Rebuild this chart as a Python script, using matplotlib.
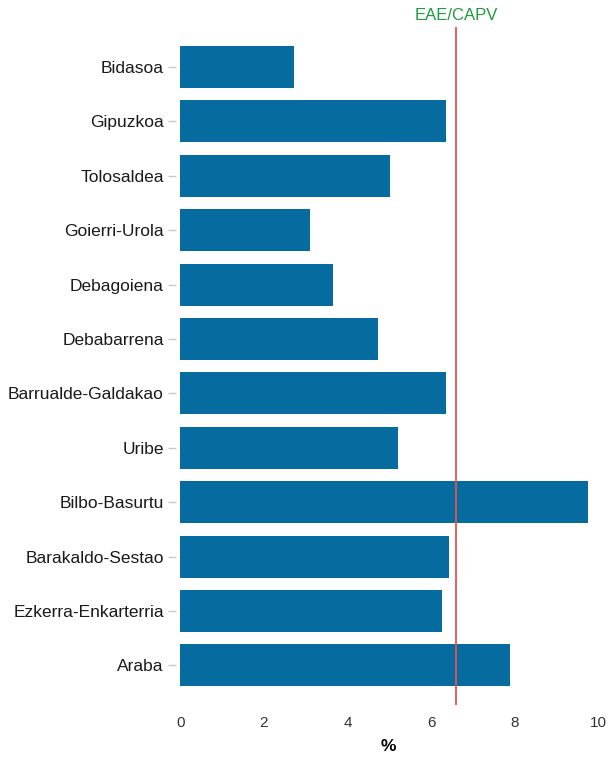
import numpy as np
import matplotlib.pyplot as plt

plt.rcParams['font.family'] = ['Liberation Sans', 'DejaVu Sans']

# Data
regions = ['Bidasoa', 'Gipuzkoa', 'Tolosaldea', 'Goierri-Urola', 'Debagoiena',
           'Debabarrena', 'Barrualde-Galdakao', 'Uribe', 'Bilbo-Basurtu',
           'Barakaldo-Sestao', 'Ezkerra-Enkarterria', 'Araba']
values = [2.72, 6.35, 5.01, 3.09, 3.65, 4.73, 6.35, 5.20, 9.76, 6.43, 6.27, 7.90]
eae_value = 6.60
eae_label = 'EAE/CAPV'
xticks = [0, 2, 4, 6, 8, 10]

fig = plt.figure(figsize=(6.08, 7.59), dpi=100)
ax = fig.add_axes([0.29, 0.071, 0.697, 0.893])

y = np.arange(len(regions))[::-1]
ax.barh(y, values, height=0.77, color='#066c9f', zorder=2)
ax.axvline(eae_value, color='#e8534f', lw=1.3, zorder=3)
ax.text(eae_value, 1.006, eae_label, transform=ax.get_xaxis_transform(),
        ha='center', va='bottom', color='#1f9a3c', fontsize=12)

ax.set_ylim(-0.73, len(regions) - 1 + 0.73)
ax.set_xlim(-0.1, 10.05)
ax.set_yticks(y)
ax.set_yticklabels(regions, fontsize=12.5, color='#1a1a1a')
ax.set_xticks(xticks)
ax.set_xticklabels([str(t) for t in xticks], fontsize=11, color='#333333')
ax.tick_params(axis='y', length=6, color='#c8c8c8', width=1, pad=3)
ax.tick_params(axis='x', length=0, pad=8)
ax.set_xlabel('%', fontsize=12.5, fontweight='bold', labelpad=6)
for s in ax.spines.values():
    s.set_visible(False)

fig.savefig('out.png', dpi=100)
